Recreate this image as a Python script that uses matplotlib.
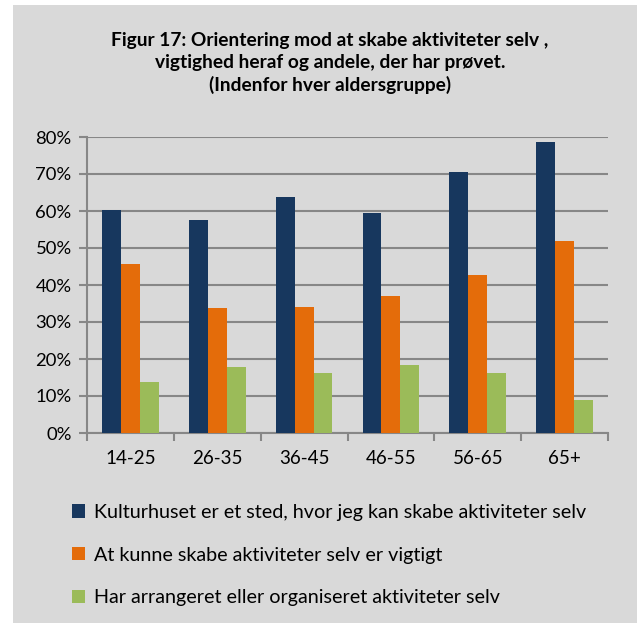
import numpy as np
import matplotlib
matplotlib.use('Agg')
import matplotlib.pyplot as plt
from matplotlib.patches import Rectangle
from matplotlib.ticker import PercentFormatter

plt.rcParams['font.family'] = ['Lato', 'DejaVu Sans']

# Values (percent)
age_groups = ['14-25', '26-35', '36-45', '46-55', '56-65', '65+']
kulturhuset = [60.2, 57.7, 63.7, 59.4, 70.5, 78.7]
vigtigt = [45.7, 33.7, 34.0, 37.0, 42.6, 51.9]
arrangeret = [13.9, 17.8, 16.2, 18.4, 16.1, 8.8]

series_labels = [
    'Kulturhuset er et sted, hvor jeg kan skabe aktiviteter selv',
    'At kunne skabe aktiviteter selv er vigtigt',
    'Har arrangeret eller organiseret aktiviteter selv',
]
colors = ['#17375E', '#E46C0A', '#9BBB59']
bg = '#D9D9D9'
grid_col = '#878787'

fig = plt.figure(figsize=(6.37, 6.23), dpi=100)
fig.patches.append(Rectangle((13 / 637, 0), 1, (623 - 5) / 623,
                             transform=fig.transFigure, facecolor=bg,
                             edgecolor='none', zorder=-10))

ax = fig.add_axes([87 / 637, 1 - 433 / 623, (608 - 87) / 637, (433 - 137) / 623])
ax.set_facecolor(bg)

x = np.arange(len(age_groups))
w = 0.218
for i, (vals, c, lab) in enumerate(zip([kulturhuset, vigtigt, arrangeret], colors, series_labels)):
    ax.bar(x + (i - 1) * w, vals, width=w, color=c, label=lab, zorder=3)

ax.set_xlim(-0.5, len(age_groups) - 0.5)
ax.set_ylim(0, 80)
ax.set_yticks(np.arange(0, 81, 10))
ax.yaxis.set_major_formatter(PercentFormatter(decimals=0))
ax.yaxis.grid(True, color=grid_col, linewidth=1.5, zorder=0)

ax.set_xticks(x)
ax.set_xticklabels(age_groups)
ax.set_xticks(np.arange(-0.5, len(age_groups)), minor=True)
ax.tick_params(axis='x', which='major', length=0, pad=12, labelsize=13.5)
ax.tick_params(axis='x', which='minor', length=6, width=1.5, color=grid_col, direction='out')
ax.tick_params(axis='y', length=6, width=1.5, color=grid_col, labelsize=13.3, pad=5)

for side in ['top', 'right']:
    ax.spines[side].set_visible(False)
for side in ['left', 'bottom']:
    ax.spines[side].set_color(grid_col)
    ax.spines[side].set_linewidth(1.5)

fig.text(0.518, 1 - 32 / 623,
         'Figur 17: Orientering mod at skabe aktiviteter selv ,\n'
         'vigtighed heraf og andele, der har prøvet.\n'
         '(Indenfor hver aldersgruppe)',
         ha='center', va='top', fontsize=13.8, fontweight='bold',
         linespacing=1.35)

handles, labels = ax.get_legend_handles_labels()
fig.legend(handles, labels, loc='upper left',
           bbox_to_anchor=(72 / 637, 1 - 504 / 623),
           frameon=False, fontsize=14.2, handlelength=0.66, handleheight=0.66,
           handletextpad=0.45, labelspacing=1.3, borderpad=0, borderaxespad=0)

fig.savefig('out.png', dpi=100)
